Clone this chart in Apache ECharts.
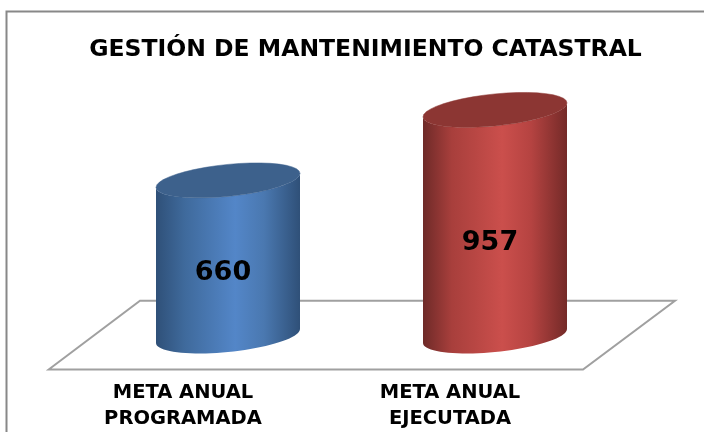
<!DOCTYPE html>
<html>
<head>
<meta charset="utf-8">
<style>
  html, body { margin: 0; padding: 0; background: #fff; }
  #chart { width: 704px; height: 432px; }
</style>
<script src="https://cdn.jsdelivr.net/npm/echarts@6/dist/echarts.min.js"></script>
</head>
<body>
<div id="chart"></div>
<script>
const titleText = "GESTIÓN DE MANTENIMIENTO CATASTRAL";
const categories = ["META ANUAL\nPROGRAMADA", "META ANUAL\nEJECUTADA"];
const metaValues = [660, 957];
const sideColors = [
  ["#2f5078", "#3f6a9c", "#5386c8", "#4a78b0", "#2f5078"],
  ["#6e2a28", "#a83f3c", "#cb4f4c", "#b54341", "#742a28"]
];
const capColors = ["#3d618c", "#8c3633"];

const chart = echarts.init(document.getElementById("chart"));

// half width, vertical radius and tilt of the cylinder ellipses
const RX = 72, RY = 16, TILT = 7;

function arc(cx, cy, from, to) {
  const pts = [];
  for (let i = 0; i <= 40; i++) {
    const t = from + (to - from) * i / 40;
    pts.push([cx + RX * Math.cos(t), cy - TILT * Math.cos(t) + RY * Math.sin(t)]);
  }
  return pts;
}

function renderCylinder(params, api) {
  const i = params.dataIndex;
  const top = api.coord([api.value(0), api.value(1)]);
  const base = api.coord([api.value(0), 0]);
  const cx = top[0];
  const side = arc(cx, base[1] - 1, 0, Math.PI).concat(arc(cx, top[1], Math.PI, 0));
  const stops = sideColors[i];
  return {
    type: "group",
    children: [
      {
        type: "polygon",
        shape: { points: side },
        style: {
          fill: new echarts.graphic.LinearGradient(0, 0, 1, 0, [
            { offset: 0, color: stops[0] },
            { offset: 0.2, color: stops[1] },
            { offset: 0.55, color: stops[2] },
            { offset: 0.75, color: stops[3] },
            { offset: 1, color: stops[4] }
          ])
        }
      },
      {
        type: "polygon",
        shape: { points: arc(cx, top[1], 0, Math.PI * 2) },
        style: { fill: capColors[i], stroke: capColors[i], lineWidth: 0.5 }
      },
      {
        type: "text",
        x: cx - 5,
        y: top[1] + (base[1] - top[1]) * 0.58 + 1.5,
        style: {
          text: String(api.value(1)),
          fill: "#000",
          font: "bold 27px 'DejaVu Sans'",
          align: "center",
          verticalAlign: "middle"
        }
      }
    ]
  };
}

chart.setOption({
  animation: false,
  backgroundColor: "#fff",
  title: {
    text: titleText,
    left: 360.5,
    top: 33,
    textAlign: "center",
    textStyle: { fontFamily: "DejaVu Sans", fontWeight: "bold", fontSize: 23.5, color: "#000" }
  },
  grid: { left: 94.5, top: 99.7, width: 534, height: 237.8 },
  xAxis: {
    type: "category",
    data: categories,
    axisLine: { show: false },
    axisTick: { show: false },
    axisLabel: {
      margin: 43,
      color: "#000",
      fontFamily: "DejaVu Sans",
      fontWeight: "bold",
      fontSize: 19.5,
      lineHeight: 26,
      padding: [0, 90, 0, 0]
    }
  },
  yAxis: { type: "value", min: 0, max: 1000, show: false },
  graphic: [
    {
      type: "polyline",
      z: 0,
      shape: { points: [[6.5, 432], [6.5, 11.5], [704, 11.5]] },
      style: { stroke: "#888", lineWidth: 2, fill: null }
    },
    {
      type: "polygon",
      z: 0,
      shape: { points: [[48.7, 369.5], [140, 300.7], [675, 300.7], [583, 369.5]] },
      style: { stroke: "#a0a0a0", lineWidth: 2, fill: "#fff" }
    }
  ],
  series: [
    {
      type: "custom",
      z: 5,
      encode: { x: 0, y: 1 },
      data: metaValues.map((v, i) => [i, v]),
      renderItem: renderCylinder
    }
  ]
});
</script>
</body>
</html>
